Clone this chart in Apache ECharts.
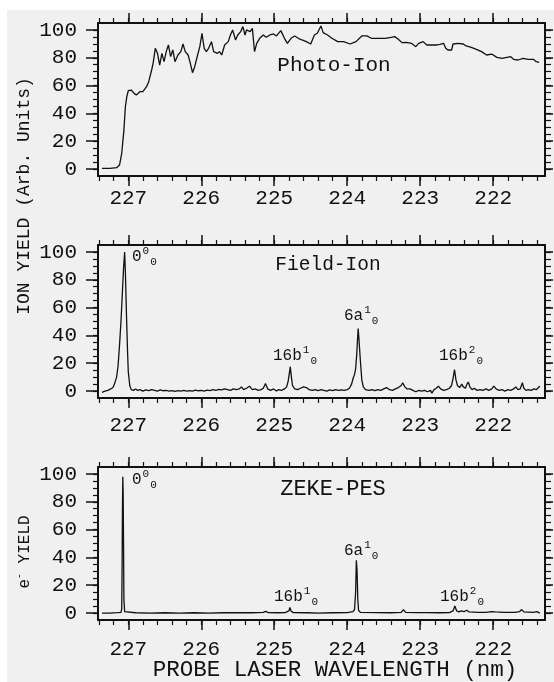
<!DOCTYPE html>
<html>
<head>
<meta charset="utf-8">
<script src="https://cdn.jsdelivr.net/npm/echarts@6/dist/echarts.min.js"></script>
<style>
html,body{margin:0;padding:0;background:#ffffff;}
#wrap{position:relative;width:554px;height:682px;overflow:hidden;}
#bg{position:absolute;left:7px;top:10px;right:0;bottom:0;background:#f0f0f0;}
#chart{position:absolute;left:0;top:0;width:554px;height:682px;}
</style>
</head>
<body>
<div id="wrap"><div id="bg"></div><div id="chart"></div></div>
<script>
// ---- tick values ----
const xMajorTicks = [222, 223, 224, 225, 226, 227];
const xMinorTicks = [221.4, 221.6, 221.8, 222.0, 222.2, 222.4, 222.6, 222.8, 223.0, 223.2, 223.4, 223.6, 223.8, 224.0, 224.2, 224.4, 224.6, 224.8, 225.0, 225.2, 225.4, 225.6, 225.8, 226.0, 226.2, 226.4, 226.6, 226.8, 227.0, 227.2, 227.4];
const yMajorTicks = [0, 20, 40, 60, 80, 100];
const yMinorTicks = [0, 5, 10, 15, 20, 25, 30, 35, 40, 45, 50, 55, 60, 65, 70, 75, 80, 85, 90, 95, 100];

// ---- series values [wavelength nm, yield] ----
const photoIon = [
[227.36,0.5],[227.25,0.5],[227.16,1],[227.12,2.9],[227.09,11.3],[227.06,28],[227.04,44.8],[227.02,52],[227.00,56.3],
[226.96,56.8],[226.92,54.4],[226.89,53.2],[226.84,55.6],[226.80,55.6],[226.75,59.2],[226.72,62.8],[226.68,71.2],[226.66,76],
[226.63,86.8],[226.60,83.2],[226.57,74.8],[226.54,83.2],[226.51,77.2],[226.48,84.4],[226.45,89.2],[226.42,80.8],[226.39,85.6],
[226.36,77.2],[226.32,82],[226.28,84.4],[226.25,89.9],[226.22,84.4],[226.18,82],[226.15,76],[226.12,69.3],[226.09,73.6],
[226.05,82],[226.02,88],[225.99,97.6],[225.96,86.8],[225.93,84.4],[225.90,86.8],[225.86,91.6],[225.83,84.4],[225.78,83.2],
[225.75,84.4],[225.72,82],[225.68,89.2],[225.63,91.6],[225.60,96.4],[225.57,100],[225.53,92.8],[225.50,96.4],[225.46,98.8],
[225.43,102.4],[225.40,96.4],[225.38,100],[225.33,98.8],[225.30,101.2],[225.27,84.4],[225.24,90.4],[225.20,94],[225.15,96.4],
[225.11,94.7],[225.06,96.4],[225.01,97.1],[224.97,95.7],[224.91,99.5],[224.86,94],[224.82,90.4],[224.77,94],[224.72,95.7],
[224.67,94],[224.62,92.8],[224.56,91.6],[224.50,89.9],[224.45,96.4],[224.41,97.6],[224.36,102.9],[224.33,98.1],[224.27,96.4],
[224.21,94],[224.13,91.6],[224.05,91.6],[223.96,89.9],[223.88,91.6],[223.80,95.7],[223.73,95.7],[223.67,94],[223.58,94],
[223.48,94],[223.40,94.7],[223.35,95.2],[223.30,93.3],[223.25,90.9],[223.19,91.1],[223.12,90.4],[223.06,88],[223.02,90.4],
[222.96,91.6],[222.91,89.2],[222.84,89.2],[222.77,89.2],[222.73,89.7],[222.68,90.4],[222.65,86.8],[222.62,85.6],[222.57,85.6],
[222.55,89.9],[222.48,90.4],[222.41,89.9],[222.37,88.5],[222.30,87.5],[222.23,86.1],[222.16,84.4],[222.09,82],[222.02,82.7],
[221.95,80.3],[221.88,79.6],[221.81,80.3],[221.76,80.8],[221.72,78.9],[221.66,78.4],[221.59,79.6],[221.52,78.9],[221.45,78.9],
[221.41,77.2],[221.37,76.7]
];

const fieldIon = [
[227.36,-1],[227.32,0],[227.28,0.5],[227.24,1.5],[227.21,2.5],[227.19,5],[227.16,10],[227.14,18],[227.12,33],[227.10,50],
[227.08,72],[227.065,88],[227.05,100],[227.04,86],[227.025,55],[227.01,28],[227.00,14],[226.98,4],[226.96,1],[226.93,0.5],
[226.90,1.5],[226.87,0.5],[226.84,1],[226.80,0],[226.76,0.8],[226.72,0.3],[226.68,1],[226.64,0.5],[226.60,0],[226.56,0.8],
[226.52,0.2],[226.48,0.5],[226.44,0],[226.40,0.3],[226.36,-0.2],[226.32,0.3],[226.28,0],[226.24,0.5],[226.20,0],[226.16,0.3],
[226.12,0],[226.08,0.6],[226.04,0.2],[226.00,0.5],[225.96,0],[225.92,0.6],[225.88,0.3],[225.84,1],[225.80,0.5],[225.76,1.2],
[225.72,0.8],[225.68,1.5],[225.64,1],[225.60,0.5],[225.56,1.5],[225.52,1],[225.48,1.5],[225.45,3],[225.42,1],[225.38,2],
[225.34,3.5],[225.30,1],[225.26,1.5],[225.22,0.5],[225.18,1],[225.15,2],[225.12,5.5],[225.09,1.5],[225.05,0.5],[225.01,1.5],
[224.97,0],[224.94,1],[224.90,0.5],[224.86,1.5],[224.83,3],[224.81,7],[224.795,12],[224.78,17.5],[224.765,10],[224.75,4],
[224.72,1.5],[224.68,1],[224.64,2],[224.60,3],[224.56,2.5],[224.52,1],[224.48,0.5],[224.44,1],[224.40,0.3],[224.36,1],
[224.32,0.5],[224.28,0],[224.24,0.8],[224.20,0.3],[224.16,1],[224.12,0.5],[224.08,0.8],[224.04,0.5],[224.00,1],[223.97,2],
[223.94,5],[223.92,9],[223.90,12],[223.885,16],[223.87,26],[223.86,36],[223.85,45],[223.84,38],[223.83,30],[223.82,22],
[223.80,8],[223.78,3],[223.75,1],[223.70,0.5],[223.66,1],[223.62,0.3],[223.58,1],[223.54,0.5],[223.50,1.5],[223.46,2.5],
[223.42,1],[223.38,0.5],[223.34,1.5],[223.30,2.5],[223.26,4],[223.24,6],[223.21,3],[223.18,1.5],[223.14,1.5],[223.10,0.5],
[223.06,-0.5],[223.02,0.5],[222.98,0],[222.94,0.5],[222.90,-0.5],[222.86,0.5],[222.84,-1.5],[222.81,1],[222.78,2],[222.75,3.5],
[222.72,1.5],[222.68,0.5],[222.64,1],[222.60,2],[222.57,4],[222.55,9],[222.53,15.5],[222.51,8],[222.49,4],[222.46,2.5],
[222.43,5],[222.41,3],[222.38,2],[222.36,5],[222.34,6.5],[222.32,3],[222.29,1],[222.26,2],[222.22,0.5],[222.18,1],
[222.14,0.5],[222.10,1.5],[222.06,0.5],[222.02,1.5],[221.99,3.5],[221.96,1.5],[221.92,0.5],[221.88,1],[221.84,0],[221.80,1],
[221.76,0.5],[221.72,1.5],[221.69,3],[221.66,1],[221.63,1.5],[221.60,6],[221.58,2],[221.55,0.5],[221.52,1],[221.48,0.5],
[221.44,1.5],[221.41,1],[221.38,2.5],[221.36,3.5]
];

const zekePes = [
[227.36,0],[227.25,0],[227.15,0.3],[227.10,0.5],[227.09,3],[227.085,30],[227.08,75],[227.075,98],[227.07,85],[227.065,50],
[227.06,10],[227.05,1],[227.03,0.3],[226.90,0.2],[226.70,0],[226.50,0.2],[226.30,0],[226.10,0.2],[225.90,0],[225.70,0.2],
[225.50,0.3],[225.30,0.2],[225.15,0.5],[225.12,1.2],[225.08,0.3],[224.95,0.2],[224.85,0.3],[224.80,1.5],[224.785,4],[224.77,1.5],
[224.74,0.3],[224.55,0.2],[224.40,0],[224.20,0.2],[224.00,0.3],[223.92,1],[223.90,2.5],[223.885,15],[223.875,38],[223.865,30],
[223.855,10],[223.845,2],[223.82,0.5],[223.60,0.3],[223.40,0.2],[223.26,0.5],[223.23,2.5],[223.20,0.5],[223.05,0.3],[222.90,0.3],
[222.75,0.2],[222.60,0.3],[222.55,1.5],[222.525,5],[222.50,1.5],[222.47,0.8],[222.44,1.5],[222.40,1],[222.36,2],[222.33,0.8],
[222.20,0.5],[222.10,0.5],[222.02,1],[222.00,2],[221.97,0.8],[221.85,0.5],[221.70,0.5],[221.64,1],[221.61,2.5],[221.58,0.8],
[221.45,0.5],[221.40,1],[221.36,0]
];

const X_MIN = 221.29, X_MAX = 227.415;
const Y_MIN = -5, Y_MAX = 105;
const FONT = '"Liberation Mono", "DejaVu Sans Mono", monospace';
const INK = '#111111';

const grids = [
  {left: 98, right: 9, top: 23, height: 153},
  {left: 98, right: 9, top: 245, height: 153},
  {left: 98, right: 9, top: 467, height: 153}
];
const labelMargins = [12, 17, 19];
const seriesData = [photoIon, fieldIon, zekePes];

const xAxes = [], yAxes = [], series = [];
grids.forEach((g, i) => {
  const baseX = {gridIndex: i, type: 'value', inverse: true, min: X_MIN, max: X_MAX, splitLine: {show: false}};
  const baseY = {gridIndex: i, type: 'value', min: Y_MIN, max: Y_MAX, splitLine: {show: false}};
  const lineOn = {show: true, onZero: false, lineStyle: {color: INK, width: 2}};
  const lineOff = {show: false, onZero: false};
  const xMainIdx = xAxes.length;
  xAxes.push(Object.assign({}, baseX, {position: 'bottom', axisLine: lineOn,
    axisTick: {show: true, customValues: xMajorTicks, length: 10, lineStyle: {color: INK, width: 1.5}},
    axisLabel: {show: true, customValues: xMajorTicks, margin: labelMargins[i], fontFamily: FONT, fontSize: 21, color: INK}}));
  xAxes.push(Object.assign({}, baseX, {position: 'bottom', axisLine: lineOff,
    axisTick: {show: true, customValues: xMinorTicks, length: 5, lineStyle: {color: INK, width: 1.2}}, axisLabel: {show: false}}));
  xAxes.push(Object.assign({}, baseX, {position: 'top', axisLine: lineOn,
    axisTick: {show: true, customValues: xMajorTicks, length: 10, lineStyle: {color: INK, width: 1.5}}, axisLabel: {show: false}}));
  xAxes.push(Object.assign({}, baseX, {position: 'top', axisLine: lineOff,
    axisTick: {show: true, customValues: xMinorTicks, length: 5, lineStyle: {color: INK, width: 1.2}}, axisLabel: {show: false}}));
  const yMainIdx = yAxes.length;
  yAxes.push(Object.assign({}, baseY, {position: 'left', axisLine: lineOn,
    axisTick: {show: true, customValues: yMajorTicks, length: 12, lineStyle: {color: INK, width: 1.5}},
    axisLabel: {show: true, customValues: yMajorTicks, margin: 21, fontFamily: FONT, fontSize: 21, color: INK}}));
  yAxes.push(Object.assign({}, baseY, {position: 'left', axisLine: lineOff,
    axisTick: {show: true, customValues: yMinorTicks, length: 5, lineStyle: {color: INK, width: 1.2}}, axisLabel: {show: false}}));
  yAxes.push(Object.assign({}, baseY, {position: 'right', axisLine: lineOn,
    axisTick: {show: true, customValues: yMajorTicks, length: 8, lineStyle: {color: INK, width: 1.5}}, axisLabel: {show: false}}));
  yAxes.push(Object.assign({}, baseY, {position: 'right', axisLine: lineOff,
    axisTick: {show: true, customValues: yMinorTicks, length: 6, lineStyle: {color: INK, width: 1.2}}, axisLabel: {show: false}}));
  series.push({type: 'line', xAxisIndex: xMainIdx, yAxisIndex: yMainIdx, data: seriesData[i],
    showSymbol: false, symbol: 'none', lineStyle: {color: INK, width: 1.3}, clip: true, z: 3});
});

const richPeak = {
  b: {fontFamily: FONT, fontSize: 16, lineHeight: 22, verticalAlign: 'middle', fill: INK},
  p: {fontFamily: FONT, fontSize: 11, lineHeight: 12, verticalAlign: 'top', fill: INK, padding: [0, 0, 0, 1]},
  s: {fontFamily: FONT, fontSize: 11, lineHeight: 12, verticalAlign: 'bottom', fill: INK, padding: [0, 0, 0, 1]}
};
function peak(x, y, base, sup, sub) {
  return {type: 'text', x: x, y: y, z: 10, silent: true,
    style: {text: '{b|' + base + '}{p|' + sup + '}{s|' + sub + '}', rich: richPeak, align: 'left', verticalAlign: 'top', fill: INK}};
}
function plain(x, y, text, size, rot) {
  return {type: 'text', x: x, y: y, z: 10, silent: true, rotation: rot || 0,
    style: {text: text, font: size + 'px ' + FONT, fill: INK, align: 'center', verticalAlign: 'middle'}};
}

const graphics = [
  plain(334, 65, 'Photo-Ion', 21),
  plain(328, 265, 'Field-Ion', 19.5),
  plain(333, 489, 'ZEKE-PES', 22),
  plain(335, 670, 'PROBE LASER WAVELENGTH (nm)', 22.5),
  plain(24, 196, 'ION YIELD (Arb. Units)', 18, Math.PI / 2),
  {type: 'text', x: 25, y: 552, z: 10, silent: true, rotation: Math.PI / 2,
    style: {text: '{e|e}{m|-}{t| YIELD}', align: 'center', verticalAlign: 'middle', fill: INK,
      rich: {e: {fontFamily: FONT, fontSize: 16, lineHeight: 22, verticalAlign: 'middle', fill: INK},
             m: {fontFamily: FONT, fontSize: 10, lineHeight: 12, verticalAlign: 'top', fill: INK},
             t: {fontFamily: FONT, fontSize: 16, lineHeight: 22, verticalAlign: 'middle', fill: INK}}}},
  peak(132, 246, '0', '0', '0'),
  peak(273, 345, '16b', '1', '0'),
  peak(344, 305, '6a', '1', '0'),
  peak(439, 345, '16b', '2', '0'),
  peak(132, 469, '0', '0', '0'),
  peak(274, 586, '16b', '1', '0'),
  peak(344, 540, '6a', '1', '0'),
  peak(440, 586, '16b', '2', '0')
];

const chart = echarts.init(document.getElementById('chart'), null, {renderer: 'canvas'});
chart.setOption({
  backgroundColor: 'transparent',
  animation: false,
  grid: grids,
  xAxis: xAxes,
  yAxis: yAxes,
  series: series,
  graphic: graphics
});
</script>
</body>
</html>
